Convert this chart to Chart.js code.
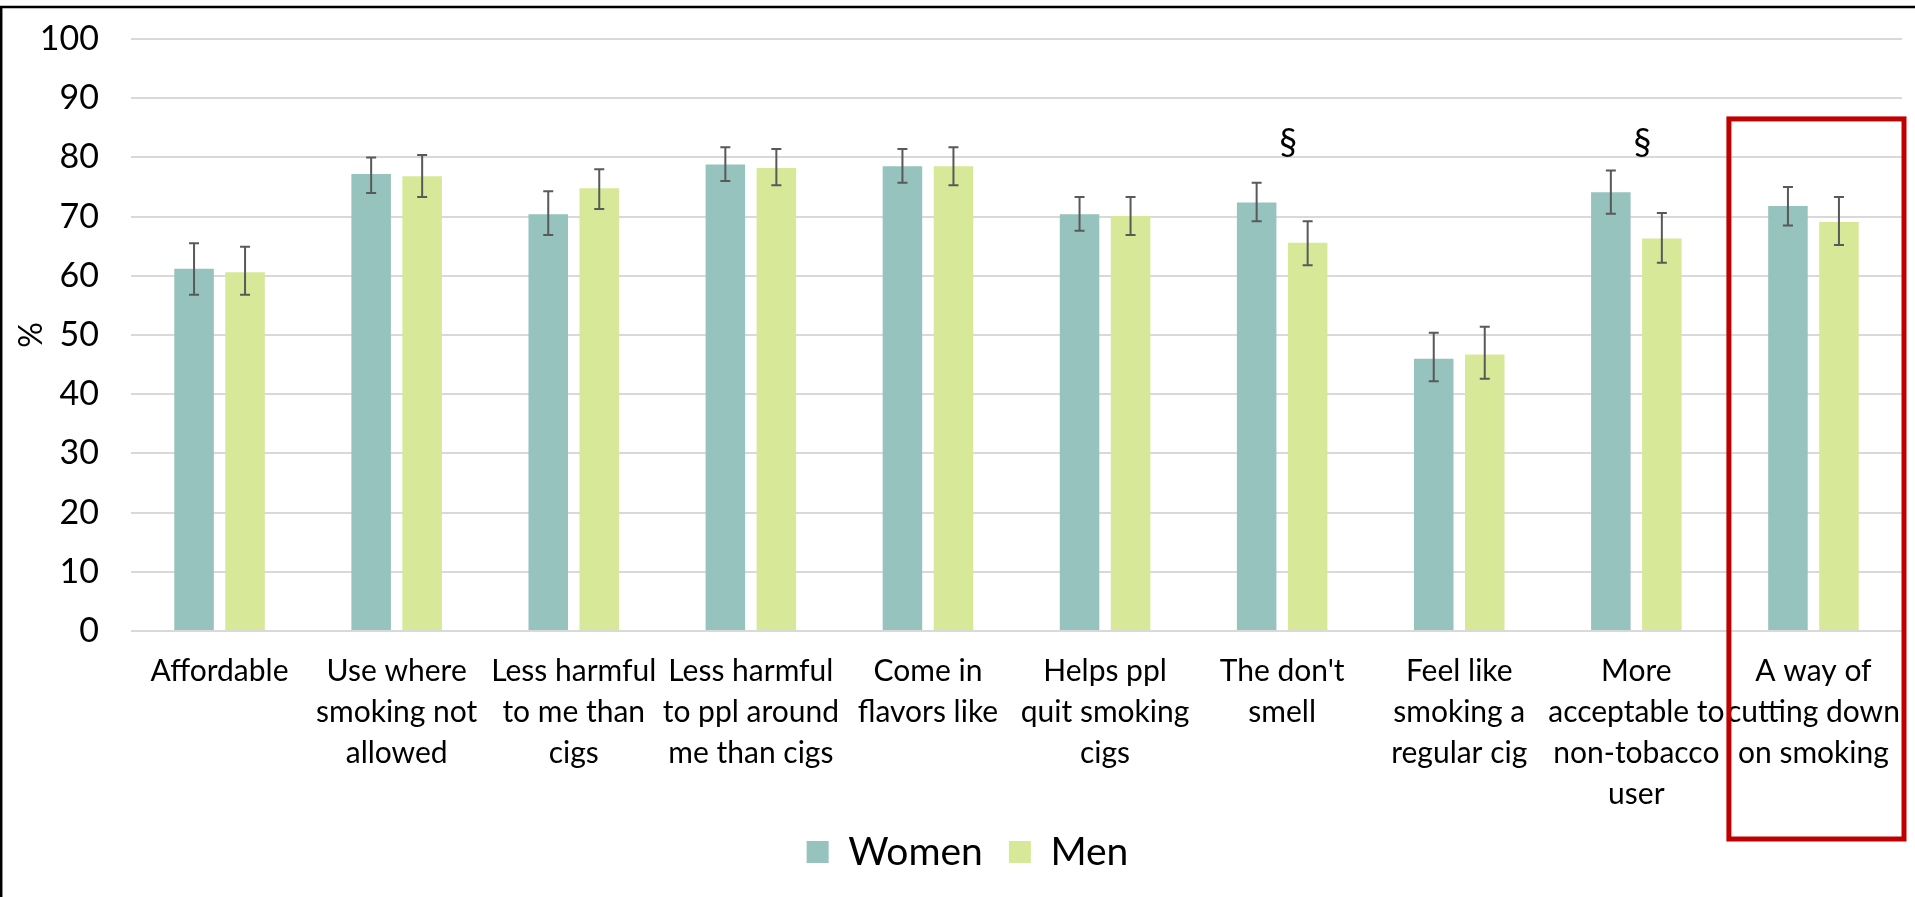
<!DOCTYPE html>
<html>
<head>
<meta charset="utf-8">
<title>Reasons for using e-cigarettes by sex</title>
<script src="https://cdn.jsdelivr.net/npm/chart.js@4/dist/chart.umd.min.js"></script>
<style>
  html, body { margin: 0; padding: 0; background: #fff; }
  canvas { display: block; }
</style>
</head>
<body>
<canvas id="reasons-chart" width="1915" height="897"></canvas>
<script>
// categories (one array of lines per label)
const categories = [
    ["Affordable"],
    ["Use where", "smoking not", "allowed"],
    ["Less harmful", "to me than", "cigs"],
    ["Less harmful", "to ppl around", "me than cigs"],
    ["Come in", "flavors like"],
    ["Helps ppl", "quit smoking", "cigs"],
    ["The don't", "smell"],
    ["Feel like", "smoking a", "regular cig"],
    ["More", "acceptable to", "non-tobacco", "user"],
    ["A way of", "cutting down", "on smoking"]
];

// percentages, with the ends of the error bars
const women   = [61.2, 77.2, 70.4, 78.8, 78.5, 70.4, 72.4, 46.0, 74.1, 71.8];
const womenHi = [65.5, 80.0, 74.3, 81.7, 81.4, 73.3, 75.7, 50.4, 77.8, 75.0];
const womenLo = [56.8, 74.0, 66.9, 76.0, 75.7, 67.6, 69.2, 42.2, 70.5, 68.5];

const men   = [60.6, 76.8, 74.8, 78.2, 78.5, 70.1, 65.6, 46.7, 66.3, 69.1];
const menHi = [64.9, 80.4, 78.0, 81.4, 81.7, 73.3, 69.2, 51.4, 70.6, 73.3];
const menLo = [56.8, 73.3, 71.3, 75.3, 75.3, 66.9, 61.8, 42.6, 62.2, 65.2];

// significance marks per category
const sigMarks = ["", "", "", "", "", "", "§", "", "§", ""];

const yTicks = [0, 10, 20, 30, 40, 50, 60, 70, 80, 90, 100];

const FONT = "Lato, 'Open Sans', sans-serif";

// error bars drawn on top of each bar, through the y scale
const errorBars = {
    id: "errorBars",
    afterDatasetsDraw(chart) {
        const ctx = chart.ctx;
        const y = chart.scales.y;
        const ranges = [[womenLo, womenHi], [menLo, menHi]];
        ctx.save();
        ctx.strokeStyle = "#595959";
        ctx.lineWidth = 2;
        ranges.forEach((r, i) => {
            const meta = chart.getDatasetMeta(i);
            meta.data.forEach((bar, j) => {
                const top = y.getPixelForValue(r[1][j]);
                const bottom = y.getPixelForValue(r[0][j]);
                const half = 5;
                ctx.beginPath();
                ctx.moveTo(bar.x, top);
                ctx.lineTo(bar.x, bottom);
                ctx.moveTo(bar.x - half, top);
                ctx.lineTo(bar.x + half, top);
                ctx.moveTo(bar.x - half, bottom);
                ctx.lineTo(bar.x + half, bottom);
                ctx.stroke();
            });
        });
        ctx.restore();
    }
};

// § marks, frame lines and the red highlight box
const decorations = {
    id: "decorations",
    afterDraw(chart) {
        const ctx = chart.ctx;
        const x = chart.scales.x;
        const y = chart.scales.y;
        const catWidth = (x.right - x.left) / categories.length;

        ctx.save();
        ctx.fillStyle = "#000";
        ctx.font = "36px " + FONT;
        ctx.textAlign = "center";
        ctx.textBaseline = "middle";
        sigMarks.forEach((m, i) => {
            if (m) ctx.fillText(m, x.getPixelForValue(i) + 6, y.getPixelForValue(82.5));
        });

        // outer frame (top and left edges only are visible)
        ctx.strokeStyle = "#000";
        ctx.lineWidth = 2.5;
        ctx.beginPath();
        ctx.moveTo(0, 7);
        ctx.lineTo(chart.width, 7);
        ctx.moveTo(1.2, 7);
        ctx.lineTo(1.2, chart.height);
        ctx.stroke();

        // highlight box around the last category
        const cx = x.getPixelForValue(categories.length - 1);
        const boxTop = y.getPixelForValue(86.5);
        ctx.strokeStyle = "#C00000";
        ctx.lineWidth = 5;
        ctx.strokeRect(cx - catWidth / 2 + 4, boxTop, catWidth - 2, chart.height - 58 - boxTop);
        ctx.restore();
    }
};

const ctx = document.getElementById("reasons-chart").getContext("2d");

const chart = new Chart(ctx, {
    type: "bar",
    data: {
        labels: categories,
        datasets: [
            {
                label: "Women",
                data: women,
                backgroundColor: "#96C3BD",
                categoryPercentage: 0.576,
                barPercentage: 0.775
            },
            {
                label: "Men",
                data: men,
                backgroundColor: "#D7E898",
                categoryPercentage: 0.576,
                barPercentage: 0.775
            }
        ]
    },
    options: {
        responsive: false,
        animation: false,
        devicePixelRatio: 1,
        layout: {
            padding: { top: 39, left: 20, right: 0, bottom: 15.5 }
        },
        scales: {
            x: {
                grid: { display: false, drawTicks: false },
                border: { display: false },
                ticks: {
                    color: "#000",
                    padding: 20,
                    maxRotation: 0,
                    autoSkip: false,
                    font: { family: FONT, size: 30, lineHeight: 1.367 }
                },
                afterFit(scale) {
                    scale.height = 175.5;
                    // labels may run past the plot edges, as in the original
                    scale.paddingLeft = 0;
                    scale.paddingRight = 0;
                }
            },
            y: {
                min: 0,
                max: 100,
                afterBuildTicks(scale) { scale.ticks = yTicks.map(v => ({ value: v })); },
                grid: { color: "#D9D9D9", lineWidth: 2, drawTicks: false },
                border: { display: false },
                ticks: {
                    color: "#000",
                    padding: 32,
                    font: { family: FONT, size: 34 }
                },
                title: {
                    display: true,
                    text: "%",
                    color: "#000",
                    padding: { top: -8, bottom: 0 },
                    font: { family: FONT, size: 32 }
                },
                afterFit(scale) {
                    scale.width = 111;
                    scale.paddingTop = 0;
                    scale.paddingBottom = 0;
                }
            },
            // empty strip on the right so the plot ends short of the edge
            gutter: {
                position: "right",
                grid: { display: false, drawTicks: false },
                border: { display: false },
                ticks: { display: false },
                afterFit(scale) { scale.width = 13; }
            }
        },
        plugins: {
            legend: {
                position: "bottom",
                labels: {
                    color: "#000",
                    boxWidth: 22,
                    boxHeight: 22,
                    padding: 26,
                    font: { family: FONT, size: 39 }
                }
            },
            tooltip: { enabled: false }
        }
    },
    plugins: [errorBars, decorations]
});
</script>
</body>
</html>
